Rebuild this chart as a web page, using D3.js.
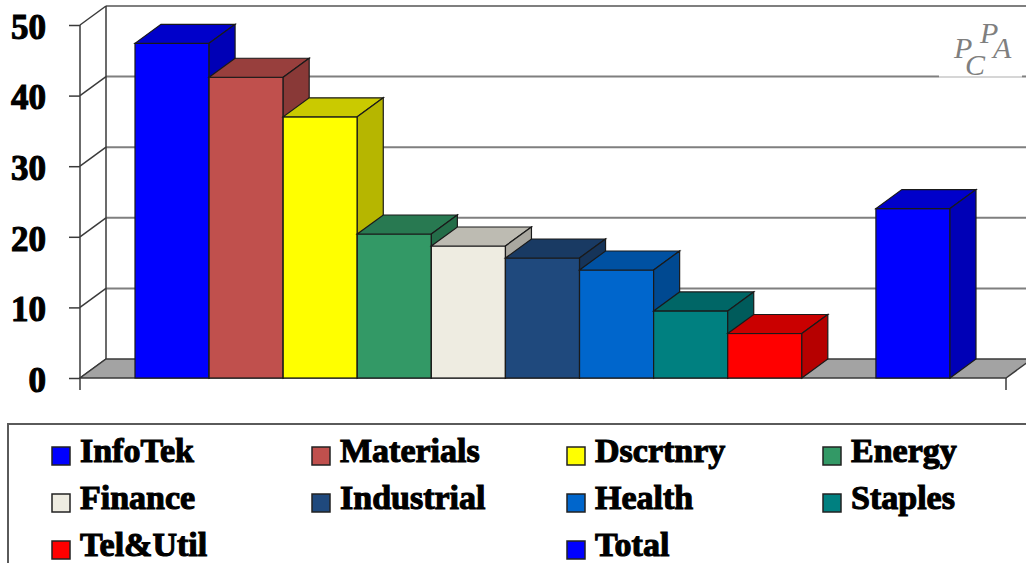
<!DOCTYPE html>
<html>
<head>
<meta charset="utf-8">
<script src="https://cdn.jsdelivr.net/npm/d3@7"></script>
<style>
  html, body { margin: 0; padding: 0; background: #fff; }
  svg { display: block; }
</style>
</head>
<body>
<svg id="chart" width="1026" height="563"></svg>
<script>
// Series (one slot per series; the empty slot is a blank spacer series)
const seriesNames = ["InfoTek", "Materials", "Dscrtnry", "Energy", "Finance",
                     "Industrial", "Health", "Staples", "Tel&Util", "", "Total"];
const seriesValues = [47.4, 42.6, 37.0, 20.4, 18.7, 17.0, 15.3, 9.5, 6.3, null, 24.0];
const seriesColors = ["#0000FF", "#C0504D", "#FFFF00", "#339966", "#EEECE1",
                      "#1F497D", "#0066CC", "#008080", "#FF0000", null, "#0000FF"];
const yTicks = [0, 10, 20, 30, 40, 50];

const svg = d3.select("#chart");
const W = 1026, H = 563;

// Plot geometry: front plane and oblique depth offset
const axisLeft = 80, axisRight = 1006;
const depth = { dx: 26, dy: -19 };

const y = d3.scaleLinear().domain([0, 50]).range([378, 25]);
const x = d3.scaleBand().domain(d3.range(seriesNames.length))
  .range([135, 950]).paddingInner(0).paddingOuter(0);

const gridColor = "#7f7f7f", axisColor = "#3a3a3a";
const y0 = y(0);

// Back wall gridlines
const wall = svg.append("g");
wall.selectAll("line.grid").data(yTicks.filter(d => d > 0)).join("line")
  .attr("x1", axisLeft + depth.dx).attr("x2", W + 10)
  .attr("y1", d => y(d) + depth.dy).attr("y2", d => y(d) + depth.dy)
  .attr("stroke", gridColor).attr("stroke-width", 2);
// Back wall left edge
wall.append("line")
  .attr("x1", axisLeft + depth.dx).attr("x2", axisLeft + depth.dx)
  .attr("y1", y(50) + depth.dy).attr("y2", y0 + depth.dy)
  .attr("stroke", axisColor).attr("stroke-width", 1.5);
// Side wall diagonals from the value axis to the back wall
wall.selectAll("line.diag").data(yTicks).join("line")
  .attr("x1", axisLeft).attr("y1", d => y(d))
  .attr("x2", axisLeft + depth.dx).attr("y2", d => y(d) + depth.dy)
  .attr("stroke", axisColor).attr("stroke-width", 1.5);

// Floor
svg.append("path")
  .attr("d", `M${axisLeft},${y0} L${axisRight},${y0} L${axisRight + depth.dx},${y0 + depth.dy} L${axisLeft + depth.dx},${y0 + depth.dy} Z`)
  .attr("fill", "#a3a3a3").attr("stroke", axisColor).attr("stroke-width", 1.5);

// Logo panel in the upper right corner of the wall
const logo = svg.append("g");
logo.append("rect").attr("x", 939).attr("y", 10).attr("width", 83).attr("height", 68).attr("fill", "#fff");
logo.append("line").attr("x1", 939).attr("x2", 1022).attr("y1", 77).attr("y2", 77)
  .attr("stroke", "#c8c8c8").attr("stroke-width", 1.5);
const logoText = logo.append("text")
  .attr("font-family", "Liberation Serif").attr("font-style", "italic")
  .attr("font-size", 30).attr("fill", "#7f7f7f");
[["P", 954, 58], ["C", 965, 75], ["P", 980, 43], ["A", 993, 58]].forEach(([t, lx, ly]) => {
  logoText.append("tspan").attr("x", lx).attr("y", ly).text(t);
});

// 3D columns, painted left to right so neighbours overlap correctly
const bars = svg.append("g");
seriesValues.forEach((v, i) => {
  if (v == null) return;
  const c = d3.color(seriesColors[i]);
  const x0 = x(i), x1 = x(i) + x.bandwidth();
  const yt = y(v), yb = y0;
  const { dx, dy } = depth;
  const g = bars.append("g");
  // front face
  g.append("rect").attr("x", x0).attr("y", yt).attr("width", x1 - x0).attr("height", yb - yt)
    .attr("fill", c.formatHex()).attr("stroke", "#1a1a1a").attr("stroke-width", 1.2);
  // top face
  g.append("path")
    .attr("d", `M${x0},${yt} L${x1},${yt} L${x1 + dx},${yt + dy} L${x0 + dx},${yt + dy} Z`)
    .attr("fill", c.darker(0.65).formatHex()).attr("stroke", "#1a1a1a").attr("stroke-width", 1.2);
  // side face
  g.append("path")
    .attr("d", `M${x1},${yt} L${x1 + dx},${yt + dy} L${x1 + dx},${yb + dy} L${x1},${yb} Z`)
    .attr("fill", c.darker(0.95).formatHex()).attr("stroke", "#1a1a1a").attr("stroke-width", 1.2);
});

// Front value axis with ticks
const axisG = svg.append("g").attr("transform", `translate(${axisLeft},0)`);
axisG.call(d3.axisLeft(y).tickValues(yTicks).tickSize(11).tickPadding(0).tickFormat(d3.format("d")));
axisG.select(".domain").remove();
axisG.selectAll(".tick line").attr("stroke", axisColor).attr("stroke-width", 1.5);
axisG.selectAll(".tick text")
  .attr("x", -34).attr("dy", "0.38em")
  .attr("font-family", "Liberation Serif").attr("font-weight", "bold")
  .attr("font-size", 35).attr("fill", "#000")
  .attr("stroke", "#000").attr("stroke-width", 1.1);
svg.append("line").attr("x1", axisLeft).attr("x2", axisLeft)
  .attr("y1", y(50)).attr("y2", y0 + 12)
  .attr("stroke", axisColor).attr("stroke-width", 1.5);
// category axis end tick
svg.append("line").attr("x1", axisRight).attr("x2", axisRight)
  .attr("y1", y0).attr("y2", y0 + 12)
  .attr("stroke", axisColor).attr("stroke-width", 1.5);

// Legend
const legend = svg.append("g");
legend.append("rect").attr("x", 8).attr("y", 424).attr("width", W).attr("height", 200)
  .attr("fill", "#fff").attr("stroke", "#5a5a5a").attr("stroke-width", 2);
const colX = [52, 312, 567, 823];
const rowY = [456, 503, 550];
seriesNames.forEach((name, i) => {
  if (!name) return;
  const cx = colX[i % 4], cy = rowY[Math.floor(i / 4)];
  legend.append("rect").attr("x", cx).attr("y", cy - 9).attr("width", 18).attr("height", 18)
    .attr("fill", seriesColors[i]).attr("stroke", "#222").attr("stroke-width", 1.5);
  legend.append("text").attr("x", cx + 28).attr("y", cy + 6).text(name)
    .attr("font-family", "Liberation Serif").attr("font-weight", "bold")
    .attr("font-size", 34).attr("fill", "#000")
    .attr("stroke", "#000").attr("stroke-width", 1.1);
});
</script>
</body>
</html>
